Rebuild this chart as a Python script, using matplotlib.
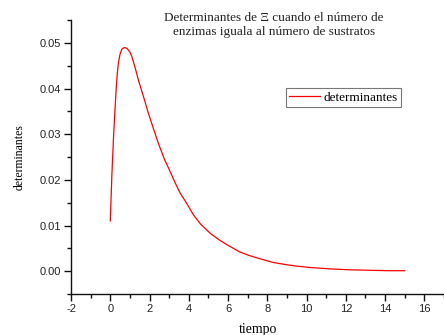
import matplotlib
matplotlib.use("Agg")
import matplotlib.pyplot as plt
from matplotlib.ticker import MultipleLocator, FormatStrFormatter

plt.rcParams["axes.unicode_minus"] = False

# values
tiempo = [0, 0.04, 0.08, 0.12, 0.16, 0.21, 0.26, 0.3, 0.36, 0.42, 0.5, 0.6,
          0.72, 0.85, 1.0, 1.1, 1.25, 1.43, 1.7, 1.94, 2.2, 2.45, 2.75, 3.05,
          3.3, 3.56, 3.9, 4.24, 4.6, 5.09, 5.5, 5.94, 6.6, 7.1, 7.64, 8.3,
          9.0, 9.5, 10.2, 11.2, 12.2, 13.2, 14.2, 15.0]
determinantes = [0.011, 0.016, 0.021, 0.025, 0.029, 0.033, 0.037, 0.040,
                 0.0435, 0.0458, 0.0476, 0.0487, 0.0490, 0.0488, 0.0480,
                 0.0470, 0.0448, 0.0419, 0.0381, 0.0346, 0.0312, 0.0280,
                 0.0246, 0.0218, 0.0194, 0.0171, 0.0148, 0.0123, 0.0103,
                 0.0083, 0.0070, 0.0058, 0.0042, 0.0034, 0.0027, 0.0019,
                 0.0014, 0.0011, 0.0008, 0.0005, 0.0003, 0.0002, 0.0001,
                 0.0001]

serif = "Liberation Serif"
sans = "Liberation Sans"

fig = plt.figure(figsize=(4.44, 3.35), dpi=100)
ax = fig.add_axes([0.16, 0.1224, 0.84, 0.8176])

ax.plot(tiempo, determinantes, color="#ff0000", lw=0.9, label="determinantes")

ax.set_xlim(-2, 17)
ax.set_ylim(-0.005, 0.055)
ax.xaxis.set_major_locator(MultipleLocator(2))
ax.xaxis.set_minor_locator(MultipleLocator(1))
ax.yaxis.set_major_locator(MultipleLocator(0.01))
ax.yaxis.set_minor_locator(MultipleLocator(0.005))
ax.yaxis.set_major_formatter(FormatStrFormatter("%.2f"))

for s in ["top", "right"]:
    ax.spines[s].set_visible(False)
for s in ["left", "bottom"]:
    ax.spines[s].set_linewidth(1.0)
    ax.spines[s].set_color("#111111")

ax.tick_params(which="major", direction="out", length=5, width=1,
               color="#111111", labelsize=8, pad=2)
ax.tick_params(which="minor", direction="out", length=3, width=1,
               color="#111111")
for lab in ax.get_xticklabels() + ax.get_yticklabels():
    lab.set_fontfamily(sans)
    lab.set_color("#222222")

ax.set_xlabel("tiempo", fontfamily=serif, fontsize=10, labelpad=7)
ax.set_ylabel("determinantes", fontfamily=serif, fontsize=8.5, labelpad=10)

fig.text(0.617, 1 - 25 / 335,
         "Determinantes de \u039e cuando el número de\nenzimas iguala al número de sustratos",
         ha="center", va="center", fontfamily=serif, fontsize=9.5,
         color="#222222", linespacing=1.2)

leg = ax.legend(loc="upper left", bbox_to_anchor=(286 / 444, 1 - 88 / 335),
                bbox_transform=fig.transFigure, borderaxespad=0,
                fancybox=False, frameon=True, handlelength=2.3,
                handletextpad=0.3, borderpad=0.25,
                prop={"family": serif, "size": 9.5})
leg.get_frame().set_edgecolor("#555555")
leg.get_frame().set_linewidth(0.8)

fig.savefig("out.png", dpi=100)
